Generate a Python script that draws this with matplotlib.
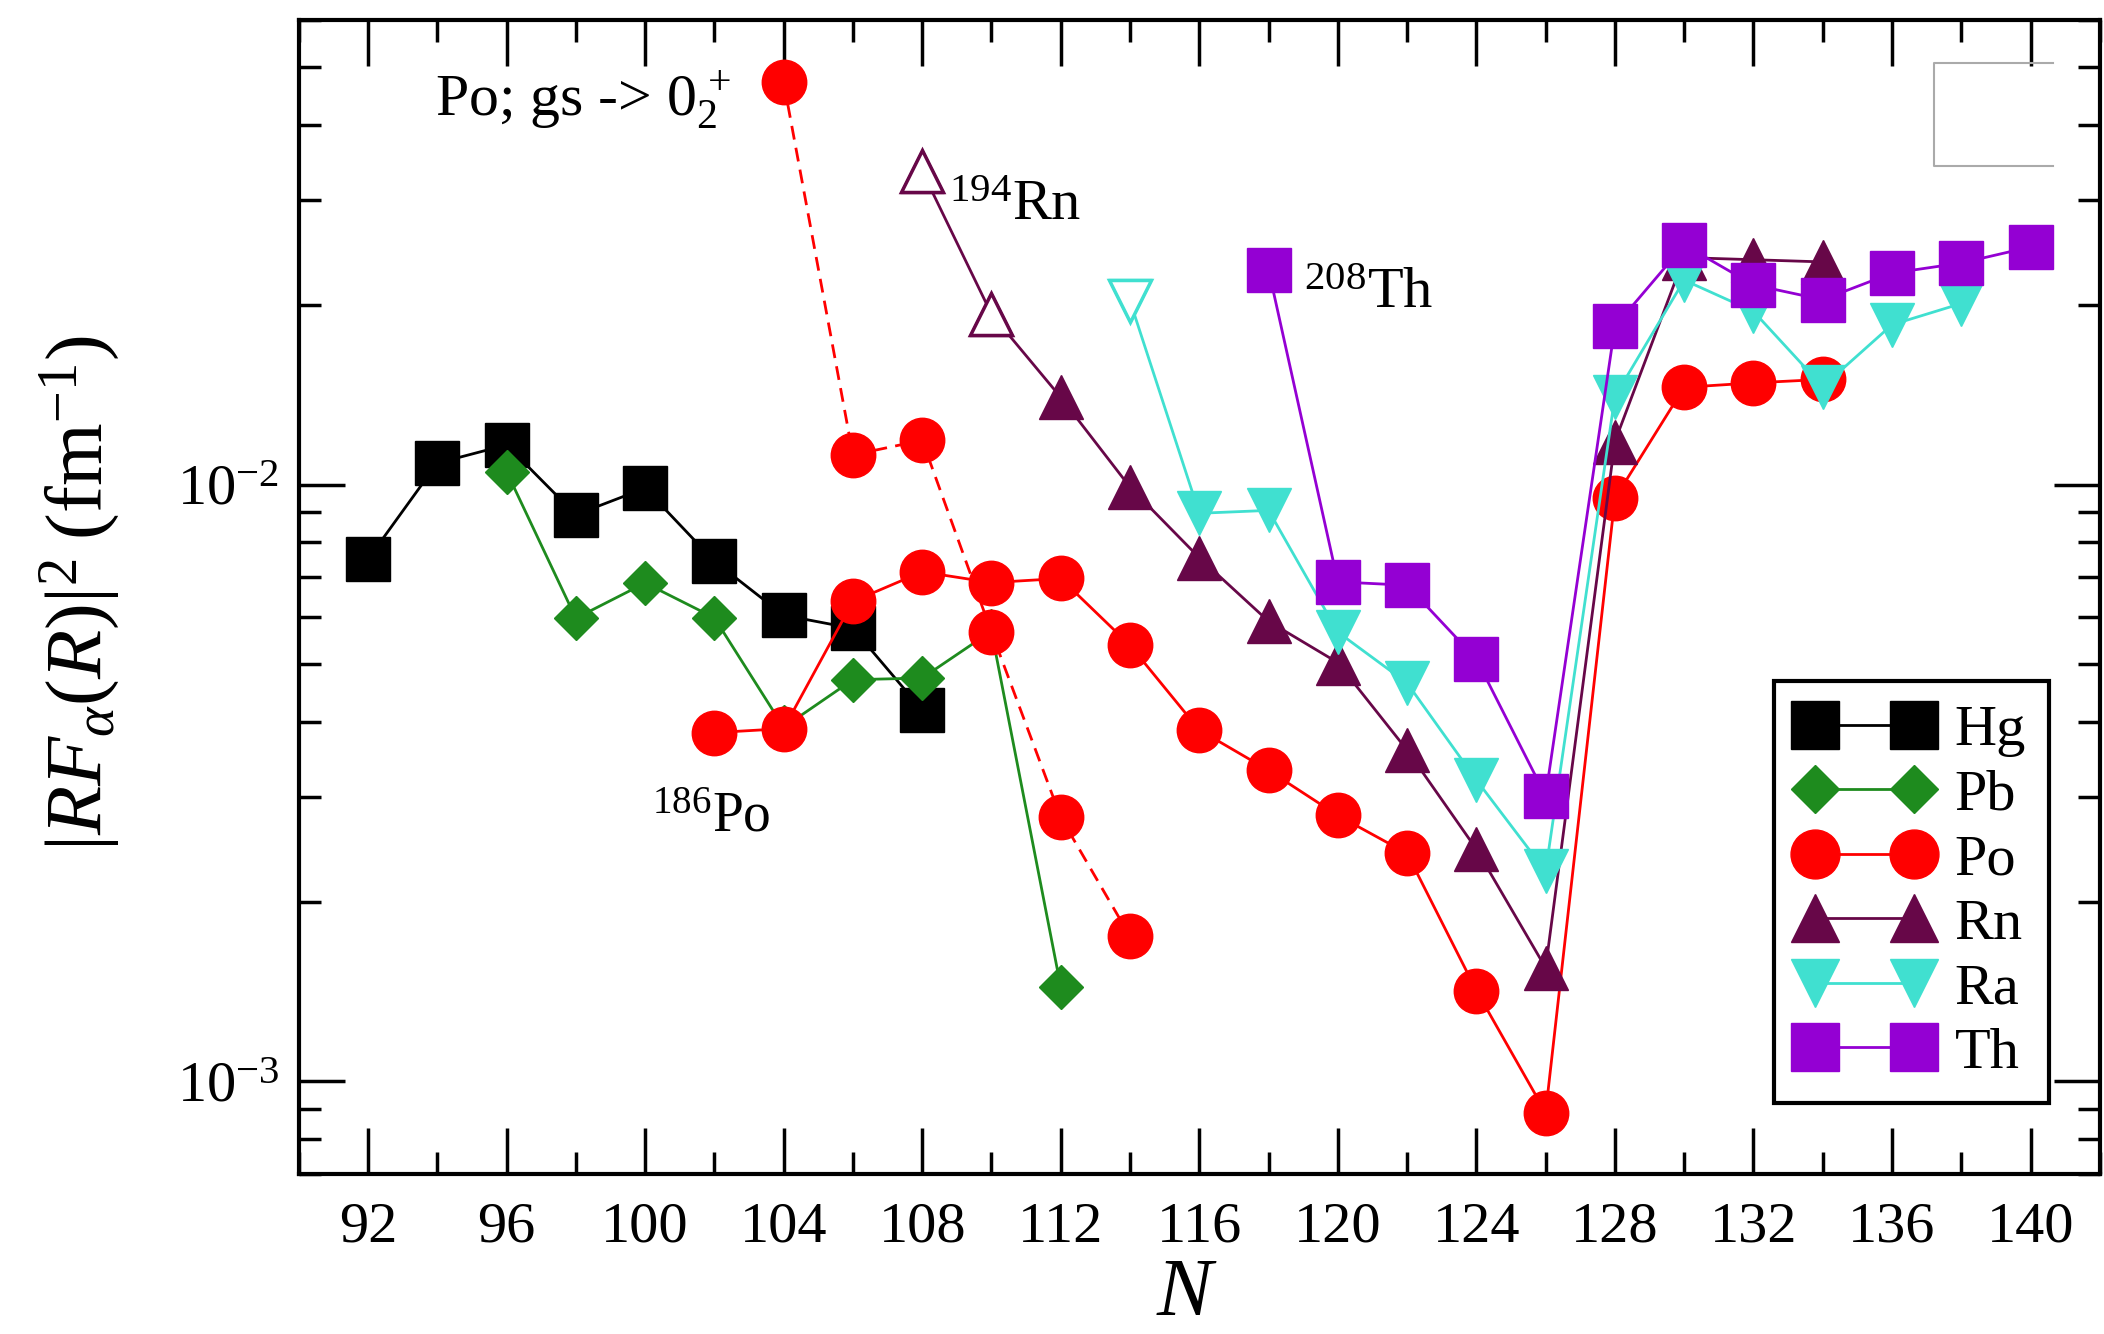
import numpy as np
import matplotlib.pyplot as plt
from matplotlib import font_manager
from matplotlib.ticker import MultipleLocator, LogLocator, NullFormatter

# Times-like serif text throughout
names = {f.name for f in font_manager.fontManager.ttflist}
serif = 'Liberation Serif' if 'Liberation Serif' in names else 'STIXGeneral'
plt.rcParams['font.family'] = [serif, 'DejaVu Serif']
if serif == 'STIXGeneral':
    plt.rcParams['mathtext.fontset'] = 'stix'
else:
    plt.rcParams['mathtext.fontset'] = 'custom'
    plt.rcParams['mathtext.rm'] = serif
    plt.rcParams['mathtext.it'] = serif + ':italic'
    plt.rcParams['mathtext.bf'] = serif + ':bold'

# neutron number N and |R F_alpha(R)|^2 in fm^-1 for each isotope chain
n_hg = [92, 94, 96, 98, 100, 102, 104, 106, 108]
hg = [0.00750, 0.01086, 0.01165, 0.00890, 0.00986, 0.00744, 0.00604, 0.00574, 0.00419]

n_pb = [96, 98, 100, 102, 104, 106, 108, 110, 112]
pb = [0.01051, 0.00597, 0.00684, 0.00598, 0.00392, 0.00471, 0.00474, 0.00568, 0.00144]

n_po = [102, 104, 106, 108, 110, 112, 114, 116, 118, 120, 122, 124, 126, 128, 130, 132, 134]
po = [0.00384, 0.00390, 0.00637, 0.00714, 0.00685, 0.00696, 0.00538, 0.00388, 0.00332,
      0.00279, 0.00241, 0.00142, 0.000887, 0.00948, 0.01455, 0.01480, 0.01500]

# Po, ground state -> 0_2^+ transition
n_po2 = [104, 106, 108, 110, 112, 114]
po2 = [0.0472, 0.01121, 0.01186, 0.00566, 0.00277, 0.00175]

n_rn = [108, 110, 112, 114, 116, 118, 120, 122, 124, 126, 128, 130, 132, 134]
rn = [0.0335, 0.0193, 0.0140, 0.00990, 0.00754, 0.00590, 0.00503, 0.00359, 0.00245,
      0.00155, 0.0118, 0.0240, 0.0238, 0.0236]
rn_open = [108, 110]

n_ra = [114, 116, 118, 120, 122, 124, 126, 128, 130, 132, 134, 136, 138]
ra = [0.0203, 0.00895, 0.00905, 0.00566, 0.00465, 0.00320, 0.00225, 0.01404, 0.0220,
      0.0195, 0.01459, 0.01852, 0.0201]
ra_open = [114]

n_th = [118, 120, 122, 124, 126, 128, 130, 132, 134, 136, 138, 140]
th = [0.0229, 0.00687, 0.00678, 0.00510, 0.00301, 0.0184, 0.0252, 0.0216, 0.0204,
      0.0226, 0.0235, 0.0250]

fig = plt.figure(figsize=(21.04, 13.34), dpi=100)
ax = fig.add_axes([0.142, 0.120, 0.856, 0.865])


def draw(n, v, color, marker, ms, label=None, ls='-', hollow=()):
    ax.plot(n, v, color=color, lw=2, ls=ls, marker=marker, ms=ms,
            mfc=color, mec=color, label=label)
    if hollow:
        idx = [i for i, x in enumerate(n) if x in hollow]
        ax.plot([n[i] for i in idx], [v[i] for i in idx], ls='none', marker=marker,
                ms=ms - 2, mfc='white', mec=color, mew=2.5)


draw(n_hg, hg, '#000000', 's', 31, 'Hg')
draw(n_pb, pb, '#1e8b1e', 'D', 22, 'Pb')
draw(n_po, po, '#ff0000', 'o', 32, 'Po')
draw(n_po2, po2, '#ff0000', 'o', 32, ls=(0, (5, 3)))
draw(n_rn, rn, '#670748', '^', 32, 'Rn', hollow=rn_open)
draw(n_ra, ra, '#40e0d0', 'v', 32, 'Ra', hollow=ra_open)
draw(n_th, th, '#9400d3', 's', 31, 'Th')

ax.set_yscale('log')
ax.set_xlim(90, 142)
ax.set_ylim(0.0007, 0.06)
ax.xaxis.set_major_locator(MultipleLocator(4))
ax.xaxis.set_minor_locator(MultipleLocator(2))
ax.yaxis.set_major_locator(LogLocator(base=10))
ax.yaxis.set_minor_locator(LogLocator(base=10, subs=np.arange(2, 10)))
ax.yaxis.set_minor_formatter(NullFormatter())

ax.tick_params(which='both', direction='in', top=True, right=True, width=2.5,
               labelsize=42)
ax.tick_params(which='major', length=33, pad=14)
ax.tick_params(which='minor', length=16)
ax.tick_params(axis='x', which='major', pad=20)
for sp in ax.spines.values():
    sp.set_linewidth(3)

leg = ax.legend(loc='lower right', bbox_to_anchor=(0.972, 0.0615), numpoints=2,
                markerscale=1.1, handlelength=2.3, handletextpad=0.4,
                labelspacing=0.2, borderpad=0.4, borderaxespad=0, fancybox=False,
                edgecolor='black', framealpha=1, fontsize=42)
leg.get_frame().set_linewidth(3)

# labels next to the curves
ax.text(0.0755, 0.9177, r'Po; gs -> $0_2^{\,+}$', transform=ax.transAxes,
        fontsize=43, va='baseline')
ax.text(0.361, 0.8267, r'$^{194}$Rn', transform=ax.transAxes, fontsize=42, va='baseline')
ax.text(0.558, 0.7504, r'$^{208}$Th', transform=ax.transAxes, fontsize=42, va='baseline')
ax.text(0.196, 0.2964, r'$^{186}$Po', transform=ax.transAxes, fontsize=40, va='baseline')

# empty grey box in the upper right corner
ax.plot([0.974, 0.908, 0.908, 0.974], [0.963, 0.963, 0.8735, 0.8735],
        transform=ax.transAxes, color='#aaaaaa', lw=1.5)

fig.text(0.038, 0.555, r'$|RF_{\alpha}(R)|^2\;(\mathrm{fm}^{-1})$', rotation=90,
         fontsize=58, ha='center', va='center')
fig.text(0.564, 0.014, r'$N$', fontsize=60, ha='center', va='baseline')

fig.savefig('out.png', dpi=100)
